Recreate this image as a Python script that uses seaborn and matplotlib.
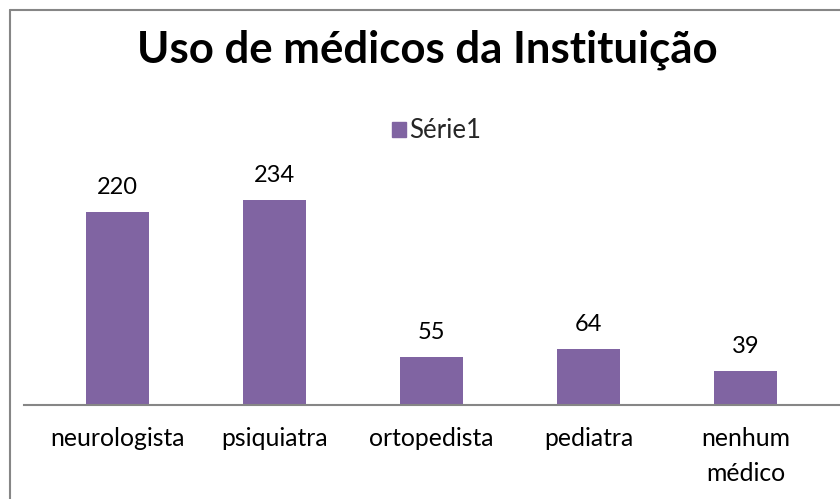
import matplotlib
matplotlib.use("Agg")
import matplotlib.pyplot as plt
import seaborn as sns
import pandas as pd
from matplotlib.patches import Rectangle
from matplotlib.lines import Line2D

categories = ["neurologista", "psiquiatra", "ortopedista", "pediatra", "nenhum\nmédico"]
values = [220, 234, 55, 64, 39]
series_name = "Série1"
title = "Uso de médicos da Instituição"

color = "#8064A2"
sns.set_theme(style="white")
plt.rcParams['font.family'] = ['Lato', 'DejaVu Sans']

df = pd.DataFrame({"cat": categories, "val": values})

fig = plt.figure(figsize=(8.4, 4.99), dpi=100)
W, H = 840, 499
ax = fig.add_axes([24 / W, (H - 405) / H, 1 - 24 / W, (405 - 140) / H])
sns.barplot(data=df, x="cat", y="val", color=color, width=0.40, saturation=1, ax=ax)
ax.set_xlim(-0.596, 4.602)
ax.set_ylim(0, 302)
for p in ax.patches:
    p.set_edgecolor('none')
for i, v in enumerate(values):
    ax.annotate(str(v), (i, v), xytext=(0, 13), textcoords="offset points",
                ha="center", va="baseline", fontsize=17, color="black")
sns.despine(ax=ax, left=True, top=True, right=True)
ax.spines['bottom'].set_color('#868686')
ax.spines['bottom'].set_linewidth(1.5)
ax.set_yticks([])
ax.set_xlabel("")
ax.set_ylabel("")
ax.tick_params(axis='x', length=0, pad=16, labelsize=17.8, colors='black')
for lbl in ax.get_xticklabels():
    lbl.set_linespacing(1.62)
    lbl.set_verticalalignment('top')

fig.text(427 / W, 1 - 50 / H, title, ha="center", va="center", fontsize=31.5, fontweight="bold", color="black")
handle = Rectangle((0, 0), 1, 1, color=color)
fig.legend([handle], [series_name], loc="center", bbox_to_anchor=(436.5 / W, 1 - 131 / H),
           frameon=False, fontsize=18.5, handlelength=0.55, handleheight=0.55, handletextpad=0.15,
           borderpad=0, borderaxespad=0)

# chart area border (top and left visible)
fig.add_artist(Line2D([9.5 / W, 9.5 / W], [0, 1 - 9.5 / H], transform=fig.transFigure, color='#868686', lw=1.5))
fig.add_artist(Line2D([9.5 / W, 1], [1 - 9.5 / H, 1 - 9.5 / H], transform=fig.transFigure, color='#868686', lw=1.5))

fig.savefig("out.png", dpi=100, facecolor="white")
